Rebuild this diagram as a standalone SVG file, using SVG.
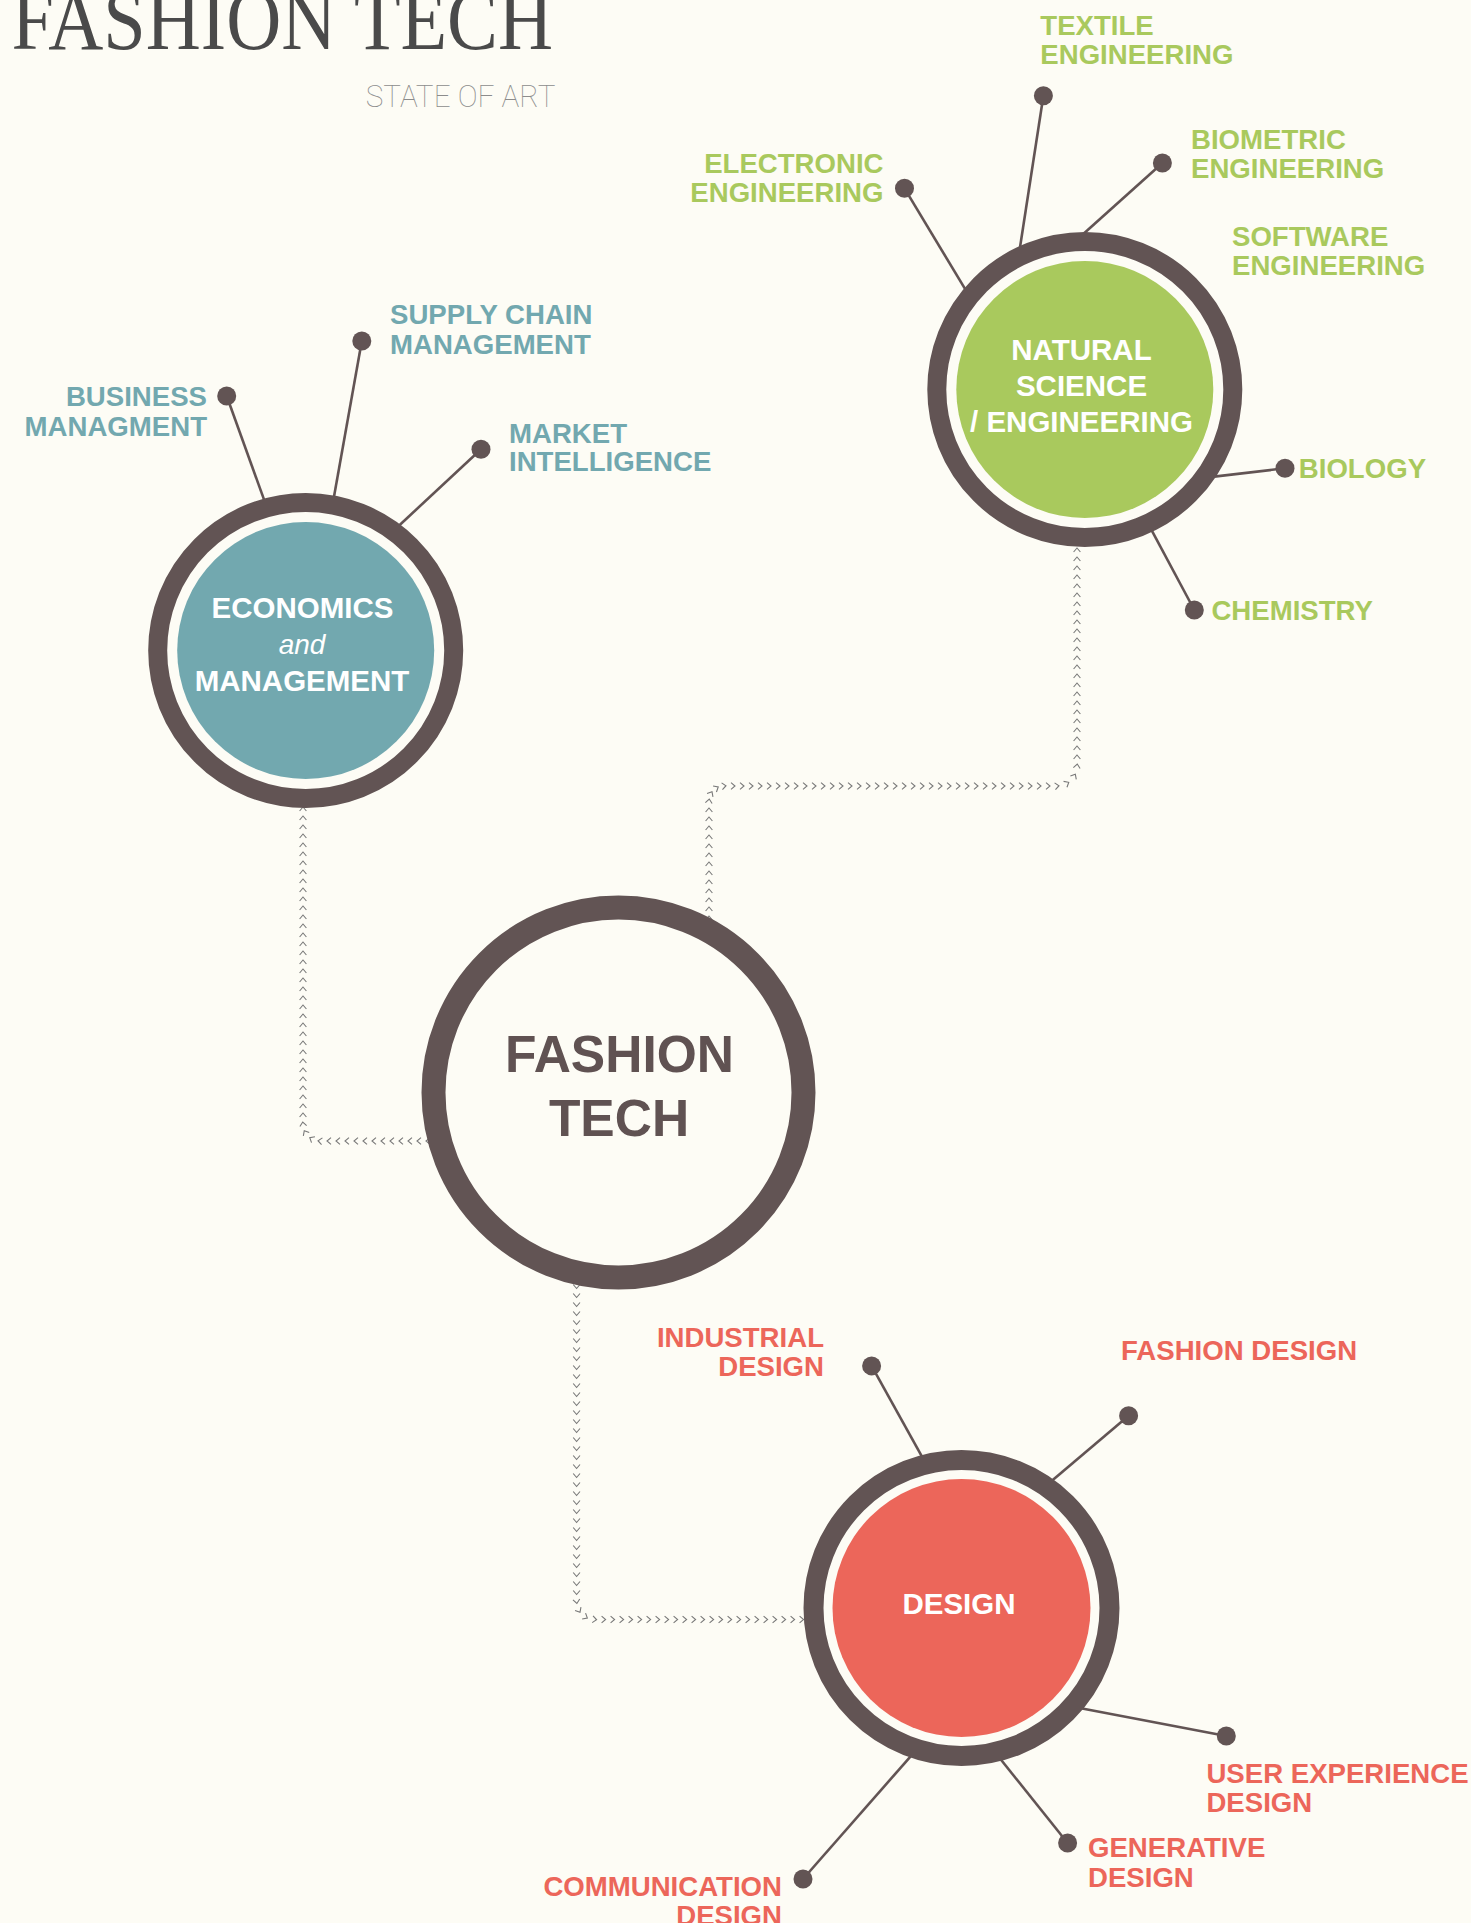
<svg xmlns="http://www.w3.org/2000/svg" width="1471" height="1923" viewBox="0 0 1471 1923">
  <defs>
    <style>
      .ring { fill: none; stroke: #625454; }
      .spoke { stroke: #625454; stroke-width: 2.6; fill: none; }
      .dot { fill: #625454; }
      .lbl { font-family: 'Liberation Sans', Arial, sans-serif; font-weight: bold; font-size: 27.6px; }
      .hub { font-family: 'Liberation Sans', Arial, sans-serif; font-weight: bold; font-size: 29.5px; fill: #ffffff; text-anchor: middle; }
      .teal { fill: #72a8af; }
      .green { fill: #a9c95d; }
      .coral { fill: #ec665a; }
      .end { text-anchor: end; }
      .flow { fill: none; stroke: none; marker-start: url(#chev); marker-mid: url(#chev); marker-end: url(#chev); }
    </style>
    <marker id="chev" markerUnits="userSpaceOnUse" markerWidth="10" markerHeight="10" viewBox="-5 -5 10 10" refX="0" refY="0" orient="auto">
      <path d="M-2,-3.4 L2,0 L-2,3.4" fill="none" stroke="#787878" stroke-width="1.1"/>
    </marker>
  </defs>

  <rect width="1471" height="1923" fill="#fdfcf5"/>

  <!-- heading -->
  <g id="title">
    <text x="11.5" y="49.3" font-family="'Liberation Serif', 'DejaVu Serif', serif" font-size="86" fill="#4a4a4a" textLength="541.5" lengthAdjust="spacingAndGlyphs">FASHION TECH</text>
    <text x="365.8" y="106.7" font-family="Roboto, Inter, Lato, sans-serif" font-weight="100" font-size="31" fill="#8c8c8c" textLength="189.6" lengthAdjust="spacingAndGlyphs">STATE OF ART</text>
  </g>

  <!-- chevron trails from the hub to each discipline -->
  <g id="connectors">
    <path id="to-economics" class="flow" d="M428,1141 h-9-9-9-9-9-9-9-9-9-9-9-9 L311.5,1138.72 305.28,1132.5 303,1124 v-9-9-9-9-9-9-9-9-9-9-9-9-9-9-9-9-9-9-9-9-9-9-9-9-9-9-9-9-9-9-9-9-9-9-9"/>
    <path id="to-science" class="flow" d="M709,918 v-9-9-9-9-9-9-9-9-9-9-9-9-9 L711.01,793.5 716.5,788.01 724,786 h9 9 9 9 9 9 9 9 9 9 9 9 9 9 9 9 9 9 9 9 9 9 9 9 9 9 9 9 9 9 9 9 9 9 9 9 9 L1067,783.32 1074.32,776 1077,766 v-9-9-9-9-9-9-9-9-9-9-9-9-9-9-9-9-9-9-9-9-9-9-9-9"/>
    <path id="to-design" class="flow" d="M576.6,1286.5 v9 9 9 9 9 9 9 9 9 9 9 9 9 9 9 9 9 9 9 9 9 9 9 9 9 9 9 9 9 9 9 9 9 9 9 L579.01,1610.5 585.6,1617.09 594.6,1619.5 h9 9 9 9 9 9 9 9 9 9 9 9 9 9 9 9 9 9 9 9 9 9 9"/>
  </g>

  <!-- central hub -->
  <g id="fashion-tech">
    <circle cx="618.5" cy="1092.5" r="185" class="ring" stroke-width="24"/>
    <text x="619.5" y="1071.7" font-family="'Liberation Sans', Arial, sans-serif" font-weight="bold" font-size="51.5" fill="#605252" text-anchor="middle">FASHION</text>
    <text x="619" y="1135.7" font-family="'Liberation Sans', Arial, sans-serif" font-weight="bold" font-size="51.5" fill="#605252" text-anchor="middle">TECH</text>
  </g>

  <!-- economics and management -->
  <g id="economics">
    <line class="spoke" x1="226.7" y1="396" x2="265.3" y2="503.1"/>
    <line class="spoke" x1="361.8" y1="341" x2="333.4" y2="499.9"/>
    <line class="spoke" x1="481" y1="449.3" x2="396.2" y2="528.2"/>
    <circle cx="305.7" cy="650.5" r="148" class="ring" stroke-width="19"/>
    <circle cx="305.7" cy="650.5" r="128.5" class="teal"/>
    <circle cx="226.7" cy="396" r="9.5" class="dot"/>
    <circle cx="361.8" cy="341" r="9.5" class="dot"/>
    <circle cx="481" cy="449.3" r="9.5" class="dot"/>
    <text class="hub" x="302.5" y="618">ECONOMICS</text>
    <text x="302" y="654" font-family="'Liberation Sans', Arial, sans-serif" font-style="italic" font-weight="300" font-size="28" fill="#ffffff" text-anchor="middle">and</text>
    <text class="hub" x="302" y="690.7">MANAGEMENT</text>
    <text class="lbl teal end" x="207" y="405.7">BUSINESS</text>
    <text class="lbl teal end" x="207" y="435.7">MANAGMENT</text>
    <text class="lbl teal" x="390" y="324.3">SUPPLY CHAIN</text>
    <text class="lbl teal" x="390" y="354">MANAGEMENT</text>
    <text class="lbl teal" x="509" y="442.7">MARKET</text>
    <text class="lbl teal" x="509" y="471">INTELLIGENCE</text>
  </g>

  <!-- natural science / engineering -->
  <g id="natural-science">
    <line class="spoke" x1="1043.4" y1="95.7" x2="1019.4" y2="251.2"/>
    <line class="spoke" x1="904.5" y1="188.3" x2="967.6" y2="293.2"/>
    <line class="spoke" x1="1162.4" y1="163" x2="1080.2" y2="236.7"/>
    <line class="spoke" x1="1285" y1="468.3" x2="1209.9" y2="477.1"/>
    <line class="spoke" x1="1194.3" y1="610" x2="1150.9" y2="528.8"/>
    <circle cx="1084.8" cy="389.5" r="148" class="ring" stroke-width="19"/>
    <circle cx="1084.8" cy="389.5" r="128.5" class="green"/>
    <circle cx="1043.4" cy="95.7" r="9.5" class="dot"/>
    <circle cx="904.5" cy="188.3" r="9.5" class="dot"/>
    <circle cx="1162.4" cy="163" r="9.5" class="dot"/>
    <circle cx="1285" cy="468.3" r="9.5" class="dot"/>
    <circle cx="1194.3" cy="610" r="9.5" class="dot"/>
    <text class="hub" x="1081.5" y="360">NATURAL</text>
    <text class="hub" x="1081.5" y="396">SCIENCE</text>
    <text class="hub" x="1081.5" y="432">/ ENGINEERING</text>
    <text class="lbl green" x="1040.3" y="35">TEXTILE</text>
    <text class="lbl green" x="1040.3" y="64">ENGINEERING</text>
    <text class="lbl green end" x="883.5" y="172.7">ELECTRONIC</text>
    <text class="lbl green end" x="883.5" y="202">ENGINEERING</text>
    <text class="lbl green" x="1191" y="149">BIOMETRIC</text>
    <text class="lbl green" x="1191" y="177.7">ENGINEERING</text>
    <text class="lbl green" x="1232" y="246">SOFTWARE</text>
    <text class="lbl green" x="1232" y="275">ENGINEERING</text>
    <text class="lbl green" x="1298.8" y="478.3">BIOLOGY</text>
    <text class="lbl green" x="1211.4" y="620">CHEMISTRY</text>
  </g>

  <!-- design -->
  <g id="design">
    <line class="spoke" x1="871.6" y1="1365.9" x2="924.2" y2="1460.6"/>
    <line class="spoke" x1="1128.6" y1="1415.8" x2="1049.8" y2="1482.6"/>
    <line class="spoke" x1="1226.3" y1="1736" x2="1078.2" y2="1707.8"/>
    <line class="spoke" x1="1067.6" y1="1843" x2="999.8" y2="1758.2"/>
    <line class="spoke" x1="803" y1="1879" x2="912.4" y2="1754.3"/>
    <circle cx="961.5" cy="1608" r="148" class="ring" stroke-width="20"/>
    <circle cx="961.5" cy="1608" r="129" class="coral"/>
    <circle cx="871.6" cy="1365.9" r="9.5" class="dot"/>
    <circle cx="1128.6" cy="1415.8" r="9.5" class="dot"/>
    <circle cx="1226.3" cy="1736" r="9.5" class="dot"/>
    <circle cx="1067.6" cy="1843" r="9.5" class="dot"/>
    <circle cx="803" cy="1879" r="9.5" class="dot"/>
    <text class="hub" x="959" y="1614">DESIGN</text>
    <text class="lbl coral end" x="824" y="1347">INDUSTRIAL</text>
    <text class="lbl coral end" x="824" y="1376">DESIGN</text>
    <text class="lbl coral" x="1121" y="1360">FASHION DESIGN</text>
    <text class="lbl coral" x="1206.4" y="1783">USER EXPERIENCE</text>
    <text class="lbl coral" x="1206.4" y="1812.4">DESIGN</text>
    <text class="lbl coral" x="1088" y="1857">GENERATIVE</text>
    <text class="lbl coral" x="1088" y="1887">DESIGN</text>
    <text class="lbl coral end" x="782" y="1896">COMMUNICATION</text>
    <text class="lbl coral end" x="782" y="1925">DESIGN</text>
  </g>
</svg>
